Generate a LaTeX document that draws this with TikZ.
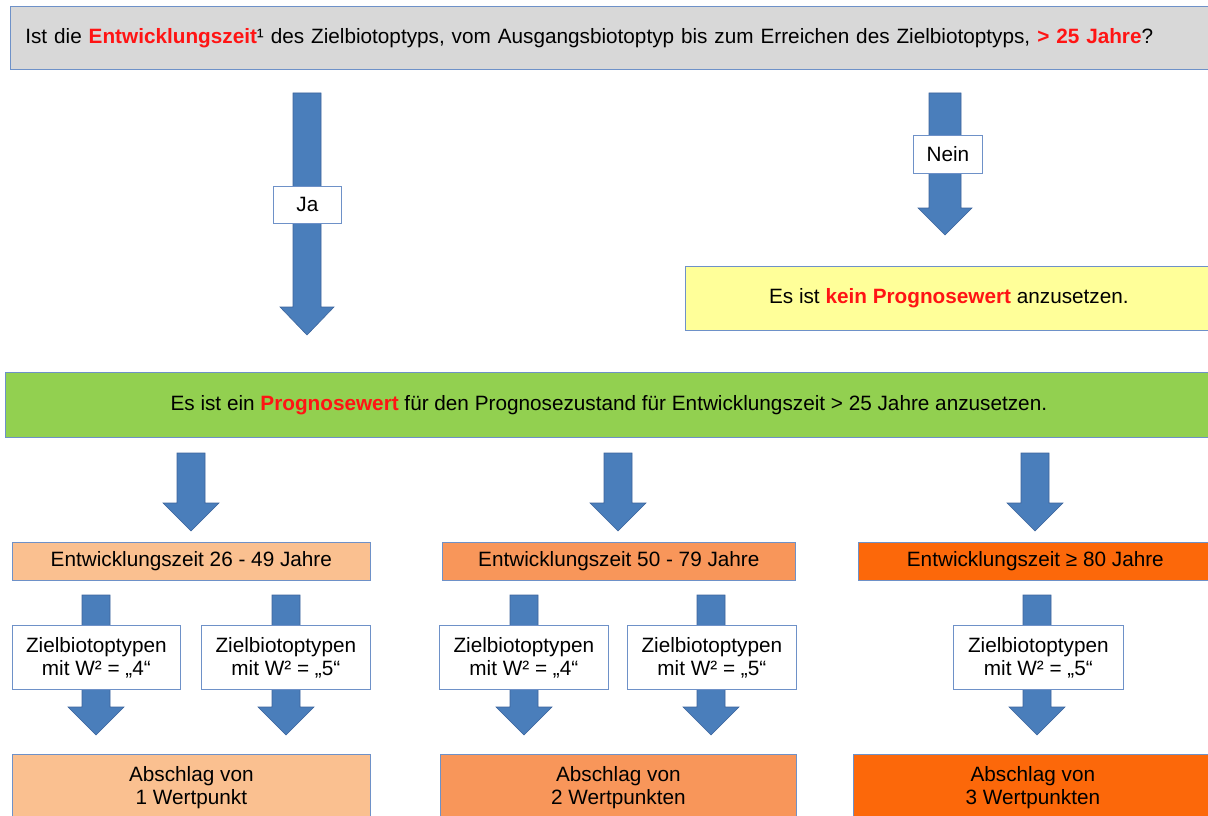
\documentclass[tikz,border=0pt]{standalone}
\usepackage{fontspec}
\setmainfont{Liberation Sans}
\usepackage{xcolor}
\usetikzlibrary{positioning}

\definecolor{boxline}{RGB}{110,145,200}
\definecolor{arrowblue}{RGB}{74,126,187}
\definecolor{arrowline}{RGB}{60,100,155}
\definecolor{qgray}{RGB}{216,216,216}
\definecolor{yell}{RGB}{255,255,153}
\definecolor{lgreen}{RGB}{146,208,80}
\definecolor{orangeA}{RGB}{250,192,144}
\definecolor{orangeB}{RGB}{248,150,90}
\definecolor{orangeC}{RGB}{252,104,10}
\definecolor{hired}{RGB}{255,20,20}

\newcommand{\pxu}{0.03cm}
\newcommand{\hl}[1]{\textcolor{hired}{\textbf{#1}}}
% block arrow: x, top, head start, tip, half shaft, half head
\newcommand{\blkarrow}[6]{%
  \draw[arrowstyle] (#1-#5,#2) -- (#1+#5,#2) -- (#1+#5,#3) -- (#1+#6,#3)
    -- (#1,#4) -- (#1-#6,#3) -- (#1-#5,#3) -- cycle;}

\begin{document}
\begin{tikzpicture}[x=0.03cm,y=-0.03cm,line width=0.6pt,
  every node/.style={font=\fontsize{17.7}{19.6}\selectfont},
  box/.style={draw=boxline,inner sep=0pt,align=center,anchor=north west},
  arrowstyle/.style={fill=arrowblue,draw=arrowline,line width=0.5pt}]

  \useasboundingbox (0,0) rectangle (1208,816);

  % arrows first, boxes on top
  \blkarrow{307}{93}{307}{335}{14}{27}
  \blkarrow{945}{93}{208}{235}{16}{27}
  \foreach \x in {191,618,1035} {\blkarrow{\x}{453}{503}{531}{14}{28}}
  \foreach \x in {96,286,524,711,1037} {\blkarrow{\x}{595}{707}{735}{14}{28}}

  \node[box,fill=qgray,minimum height=63*\pxu,text width=1172*\pxu,inner xsep=15*\pxu,align=left]
    (q) at (10,6) {Ist die \hl{Entwicklungszeit}¹ des Zielbiotoptyps, vom Ausgangsbiotoptyp bis zum Erreichen des Zielbiotoptyps, \hl{> 25 Jahre}?};

  \node[box,fill=white,minimum width=68*\pxu,minimum height=37*\pxu] (ja) at (273,186) {Ja};
  \node[box,fill=white,minimum width=69*\pxu,minimum height=38*\pxu] (nein) at (913,135) {Nein};

  \node[box,fill=yell,minimum width=527*\pxu,minimum height=64*\pxu] (kein) at (685,266)
    {Es ist \hl{kein Prognosewert} anzusetzen.};
  \node[box,fill=lgreen,minimum width=1207*\pxu,minimum height=65*\pxu] (prog) at (5,372)
    {Es ist ein \hl{Prognosewert} für den Prognosezustand für Entwicklungszeit > 25 Jahre anzusetzen.};

  % Entwicklungszeit
  \node[box,fill=orangeA,minimum width=358*\pxu,minimum height=38*\pxu] (zeitA) at (12,542) {Entwicklungszeit 26 - 49 Jahre};
  \node[box,fill=orangeB,minimum width=353*\pxu,minimum height=38*\pxu] (zeitB) at (442,542) {Entwicklungszeit 50 - 79 Jahre};
  \node[box,fill=orangeC,minimum width=354*\pxu,minimum height=38*\pxu] (zeitC) at (858,542) {Entwicklungszeit ≥ 80 Jahre};

  % Zielbiotoptypen
  \node[box,fill=white,minimum width=168*\pxu,minimum height=64*\pxu] (zielA4) at (12,625) {Zielbiotoptypen\\mit W² = „4“};
  \node[box,fill=white,minimum width=169*\pxu,minimum height=64*\pxu] (zielA5) at (201,625) {Zielbiotoptypen\\mit W² = „5“};
  \node[box,fill=white,minimum width=169*\pxu,minimum height=64*\pxu] (zielB4) at (439,625) {Zielbiotoptypen\\mit W² = „4“};
  \node[box,fill=white,minimum width=169*\pxu,minimum height=64*\pxu] (zielB5) at (627,625) {Zielbiotoptypen\\mit W² = „5“};
  \node[box,fill=white,minimum width=170*\pxu,minimum height=64*\pxu] (zielC5) at (953,625) {Zielbiotoptypen\\mit W² = „5“};

  % Abschlag
  \node[box,fill=orangeA,minimum width=358*\pxu,minimum height=66*\pxu] (abA) at (12,754) {Abschlag von\\1 Wertpunkt};
  \node[box,fill=orangeB,minimum width=356*\pxu,minimum height=66*\pxu] (abB) at (440,754) {Abschlag von\\2 Wertpunkten};
  \node[box,fill=orangeC,minimum width=359*\pxu,minimum height=66*\pxu] (abC) at (853,754) {Abschlag von\\3 Wertpunkten};
\end{tikzpicture}
\end{document}
